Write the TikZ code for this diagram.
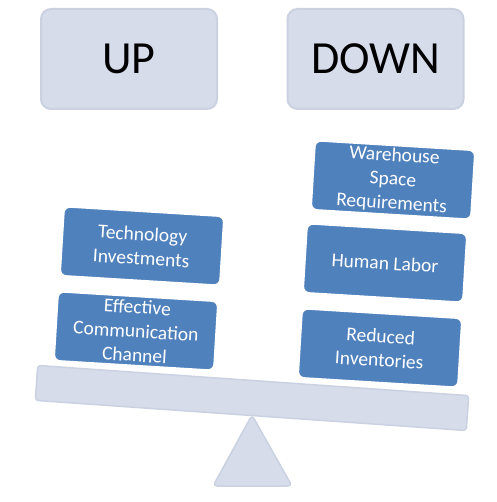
\documentclass[tikz,border=0pt]{standalone}
\usepackage{fontspec}
\setmainfont{Carlito}
\usepackage{xcolor}
\usetikzlibrary{positioning, shapes.geometric}

\definecolor{paleblue}{RGB}{214,220,233}
\definecolor{paleline}{RGB}{202,210,226}
\definecolor{itemblue}{RGB}{79,129,189}

\tikzset{
  headbox/.style={
    draw=paleline, line width=2pt, fill=paleblue,
    rounded corners=10pt, minimum width=176pt, minimum height=100pt,
    font=\fontsize{46}{54}\selectfont
  },
  itembox/.style={
    draw=white, line width=1.5pt, fill=itemblue, text=white,
    rounded corners=6pt, minimum width=160pt, minimum height=69pt,
    inner sep=1pt, align=center, rotate=-3.5,
    font=\fontsize{19.5}{24}\selectfont
  }
}

\begin{document}
\begin{tikzpicture}[x=1pt, y=-1pt]
  \useasboundingbox (0,0) rectangle (496,502);

  % headings
  \node[headbox] (up) at (129,59) {UP};
  \node[headbox] (down) at (375.5,59) {DOWN};

  % the seesaw
  \draw[draw=paleline, line width=1.5pt, fill=paleblue, rounded corners=4pt]
    (252,415) -- (292,486) -- (213,486) -- cycle;
  \node[
    draw=paleline, line width=1.5pt, fill=paleblue,
    rounded corners=3pt, rotate=-4,
    minimum width=432pt, minimum height=35pt
  ] (beam) at (252,398) {};

  % left side
  \node[itembox] (tech) at (142,246) {Technology\\Investments};
  \node[itembox] (comm) at (136,331) {Effective\\Communication\\Channel};

  % right side
  \node[itembox] (ware) at (393,180) {Warehouse\\Space\\Requirements};
  \node[itembox] (labor) at (385,263) {Human Labor};
  \node[itembox] (inv) at (380,348) {Reduced\\Inventories};
\end{tikzpicture}
\end{document}
